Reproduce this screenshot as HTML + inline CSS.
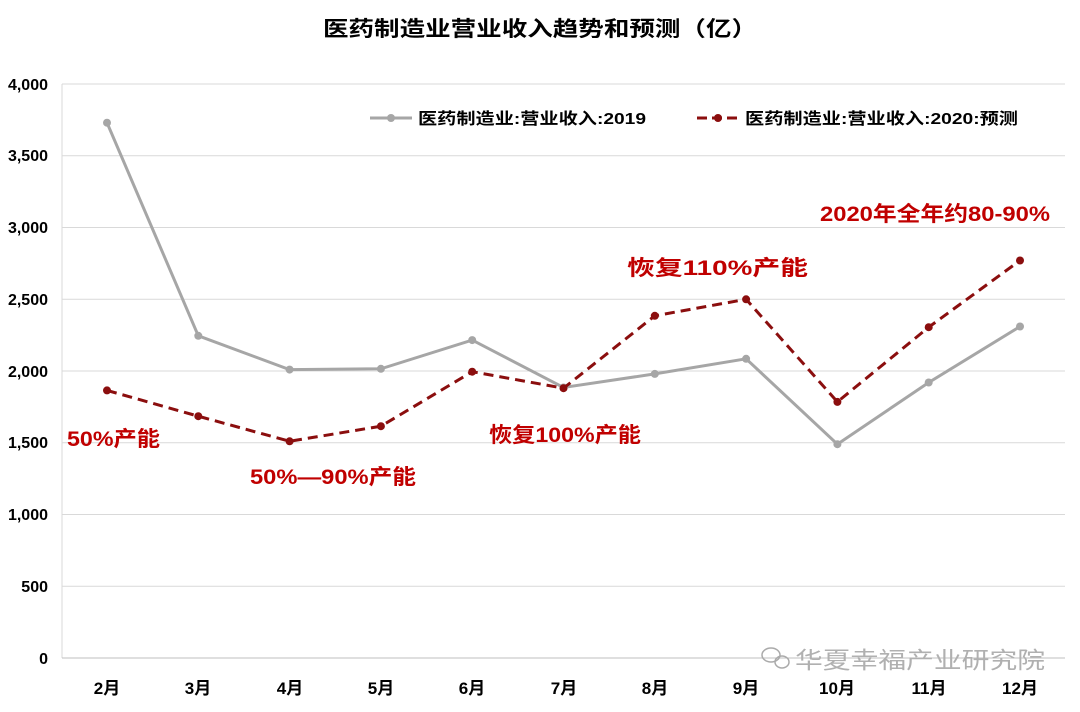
<!DOCTYPE html>
<html><head><meta charset="utf-8"><style>
body{margin:0;background:#fff;}
svg text{font-family:"Liberation Sans","Noto Sans CJK SC",sans-serif;}
</style></head><body>
<svg width="1080" height="707" xmlns="http://www.w3.org/2000/svg">
<rect width="1080" height="707" fill="#fff"/>
<text x="323" y="36" font-size="21" font-weight="bold" fill="#000" textLength="434" lengthAdjust="spacingAndGlyphs">医药制造业营业收入趋势和预测（亿）</text>
<g stroke="#d9d9d9" stroke-width="1">
<line x1="62" y1="84" x2="1065" y2="84"/><line x1="62" y1="155.75" x2="1065" y2="155.75"/>
<line x1="62" y1="227.5" x2="1065" y2="227.5"/><line x1="62" y1="299.25" x2="1065" y2="299.25"/>
<line x1="62" y1="371" x2="1065" y2="371"/><line x1="62" y1="442.75" x2="1065" y2="442.75"/>
<line x1="62" y1="514.5" x2="1065" y2="514.5"/><line x1="62" y1="586.25" x2="1065" y2="586.25"/>
<line x1="62" y1="84" x2="62" y2="658"/>
</g>
<line x1="62" y1="658" x2="1065" y2="658" stroke="#bfbfbf"/>
<g font-size="16" font-weight="bold" fill="#000" text-anchor="end">
<text x="48" y="90">4,000</text><text x="48" y="161">3,500</text><text x="48" y="233">3,000</text>
<text x="48" y="305">2,500</text><text x="48" y="377">2,000</text><text x="48" y="448">1,500</text>
<text x="48" y="520">1,000</text><text x="48" y="592">500</text><text x="48" y="664">0</text>
</g>
<g font-size="17" font-weight="bold" fill="#000" text-anchor="middle">
<text x="107" y="694">2月</text><text x="198" y="694">3月</text><text x="290" y="694">4月</text>
<text x="381" y="694">5月</text><text x="472" y="694">6月</text><text x="564" y="694">7月</text>
<text x="655" y="694">8月</text><text x="746" y="694">9月</text><text x="837" y="694">10月</text>
<text x="929" y="694">11月</text><text x="1020" y="694">12月</text>
</g>
<polyline fill="none" stroke="#a6a6a6" stroke-width="3" points="107,122.7 198.3,335.8 289.6,369.6 380.9,368.8 472.2,340.1 563.5,387.5 654.8,373.9 746.1,358.8 837.4,444.2 928.7,382.5 1020,326.5"/>
<g fill="#a6a6a6">
<circle cx="107" cy="122.7" r="4"/><circle cx="198.3" cy="335.8" r="4"/><circle cx="289.6" cy="369.6" r="4"/><circle cx="380.9" cy="368.8" r="4"/><circle cx="472.2" cy="340.1" r="4"/><circle cx="563.5" cy="387.5" r="4"/><circle cx="654.8" cy="373.9" r="4"/><circle cx="746.1" cy="358.8" r="4"/><circle cx="837.4" cy="444.2" r="4"/><circle cx="928.7" cy="382.5" r="4"/><circle cx="1020" cy="326.5" r="4"/>
</g>
<polyline fill="none" stroke="#8b0e0e" stroke-width="3" stroke-dasharray="10,6" points="107,390.4 198.3,416.2 289.6,441.3 380.9,426.2 472.2,371.7 563.5,388.2 654.8,315.8 746.1,299.3 837.4,401.9 928.7,327.2 1020,260.5"/>
<g fill="#8b0e0e">
<circle cx="107" cy="390.4" r="4"/><circle cx="198.3" cy="416.2" r="4"/><circle cx="289.6" cy="441.3" r="4"/><circle cx="380.9" cy="426.2" r="4"/><circle cx="472.2" cy="371.7" r="4"/><circle cx="563.5" cy="388.2" r="4"/><circle cx="654.8" cy="315.8" r="4"/><circle cx="746.1" cy="299.3" r="4"/><circle cx="837.4" cy="401.9" r="4"/><circle cx="928.7" cy="327.2" r="4"/><circle cx="1020" cy="260.5" r="4"/>
</g>
<line x1="370" y1="118" x2="412" y2="118" stroke="#a6a6a6" stroke-width="3"/><circle cx="391" cy="118" r="4" fill="#a6a6a6"/>
<text x="418" y="124" font-size="16" font-weight="bold" fill="#000" textLength="228" lengthAdjust="spacingAndGlyphs">医药制造业:营业收入:2019</text>
<line x1="697" y1="118" x2="739" y2="118" stroke="#8b0e0e" stroke-width="3" stroke-dasharray="10,5"/><circle cx="718" cy="118" r="4" fill="#8b0e0e"/>
<text x="745" y="124" font-size="16" font-weight="bold" fill="#000" textLength="273" lengthAdjust="spacingAndGlyphs">医药制造业:营业收入:2020:预测</text>
<g font-size="21" font-weight="bold" fill="#c00000" lengthAdjust="spacingAndGlyphs">
<text x="67" y="446" textLength="93" lengthAdjust="spacingAndGlyphs">50%产能</text>
<text x="250" y="484" textLength="166" lengthAdjust="spacingAndGlyphs">50%—90%产能</text>
<text x="489" y="442" textLength="152" lengthAdjust="spacingAndGlyphs">恢复100%产能</text>
<text x="627" y="275" textLength="181" lengthAdjust="spacingAndGlyphs">恢复110%产能</text>
<text x="820" y="221" textLength="230" lengthAdjust="spacingAndGlyphs">2020年全年约80-90%</text>
</g>
<g fill="none" stroke="#aaa" stroke-width="1.5"><ellipse cx="771" cy="655" rx="9" ry="7"/><ellipse cx="782" cy="662" rx="7" ry="6"/></g>
<text x="795" y="668" font-size="23" fill="#b0b0b0" textLength="250" lengthAdjust="spacingAndGlyphs">华夏幸福产业研究院</text>
</svg>
</body></html>
